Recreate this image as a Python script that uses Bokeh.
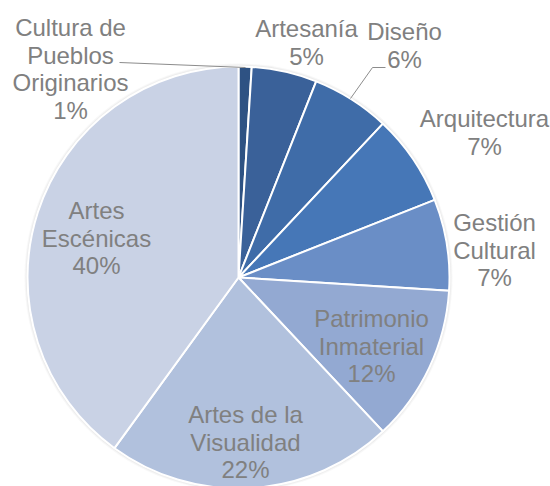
import math
from bokeh.plotting import figure
from bokeh.models import Range1d, ColumnDataSource
from bokeh.core.properties import value
from bokeh.embed import file_html
from bokeh.resources import INLINE

# ---- data ----
categories = ["Cultura de\nPueblos\nOriginarios", "Artesanía", "Diseño", "Arquitectura",
              "Gestión\nCultural", "Patrimonio\nInmaterial", "Artes de la\nVisualidad",
              "Artes\nEscénicas"]
shares = [1, 5, 6, 7, 7, 12, 22, 40]
colors = ["#2E5283", "#3A6199", "#3F6CA8", "#4677B7", "#6A8EC6", "#93A9D2", "#B1C1DD", "#C9D2E5"]

# ---- layout (screen px, y downward) ----
W, H = 550, 486
CX, CY, R = 238, 277, 211
label_pos = [(70, 27), (306, 28), (404, 31), (484, 118), (494, 222), (371, 318), (245, 414), (96, 210)]
LINE_STEP = 27.5
FONT_SIZE = "24px"
TEXT_COLOR = "#808080"

p = figure(width=W, height=H, output_backend="svg", toolbar_location=None,
           x_range=Range1d(0, W), y_range=Range1d(0, H), min_border=0)
p.axis.visible = False
p.grid.visible = False
p.outline_line_color = None
p.background_fill_color = "white"
p.border_fill_color = "white"

total = float(sum(shares))
starts, ends = [], []
cum = 0.0
for s in shares:
    starts.append(math.pi / 2 - 2 * math.pi * cum / total)
    cum += s
    ends.append(math.pi / 2 - 2 * math.pi * cum / total)

# soft shadow
for k, a in [(3, 0.05), (2, 0.07), (1, 0.10)]:
    p.circle(x=[CX], y=[H - CY], radius=R + k, fill_color="#7f7f7f", fill_alpha=a, line_color=None)

src = ColumnDataSource(dict(start=starts, end=ends, color=colors, cat=categories, share=shares))
p.wedge(x=CX, y=H - CY, radius=R, start_angle="start", end_angle="end", direction="clock",
        fill_color="color", line_color="white", line_width=2, source=src)

# leader lines
p.line(x=[119, 245], y=[H - 62, H - 67], line_color="#8c8c8c", line_width=1)
p.line(x=[385, 372, 350], y=[H - 67, H - 67, H - 98], line_color="#8c8c8c", line_width=1)

# labels
xs, ys, txt = [], [], []
for cat, sh, (lx, ly) in zip(categories, shares, label_pos):
    lines = cat.split("\n") + [f"{sh}%"]
    for i, ln in enumerate(lines):
        xs.append(lx)
        ys.append(H - (ly + i * LINE_STEP))
        txt.append(ln)
p.text(x=xs, y=ys, text=txt, text_align="center", text_baseline="middle",
       text_font=value("Liberation Sans"), text_font_size=FONT_SIZE, text_color=TEXT_COLOR)

open("out.html", "w").write(file_html(p, INLINE))
